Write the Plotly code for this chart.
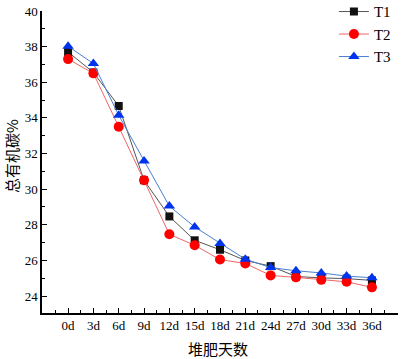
import plotly.graph_objects as go

days = ["0d", "3d", "6d", "9d", "12d", "15d", "18d", "21d", "24d", "27d", "30d", "33d", "36d"]
t1 = [37.7, 36.55, 34.67, 30.5, 28.47, 27.13, 26.6, 26.0, 25.68, 25.1, 25.02, 24.98, 24.88]
t2 = [37.3, 36.5, 33.5, 30.5, 27.47, 26.85, 26.05, 25.83, 25.16, 25.05, 24.91, 24.8, 24.49]
t3 = [38.02, 37.05, 34.15, 31.58, 29.05, 27.88, 26.95, 26.07, 25.6, 25.42, 25.3, 25.12, 25.03]
y_ticks = [24, 26, 28, 30, 32, 34, 36, 38, 40]

xi = list(range(len(days)))
serif = "Liberation Serif, Times New Roman, serif"
cjk = "Noto Sans CJK SC"

fig = go.Figure()
fig.add_trace(go.Scatter(x=xi, y=t1, name="T1", mode="lines+markers",
                         line=dict(color="#555555", width=1),
                         marker=dict(symbol="square", size=8, color="#111111")))
fig.add_trace(go.Scatter(x=xi, y=t2, name="T2", mode="lines+markers",
                         line=dict(color="#ee6666", width=1),
                         marker=dict(symbol="circle", size=10, color="#ff0000")))
fig.add_trace(go.Scatter(x=xi, y=t3, name="T3", mode="lines+markers",
                         line=dict(color="#4a7fd0", width=1),
                         marker=dict(symbol="triangle-up", size=10, color="#0033ee")))

fig.update_layout(
    width=401, height=359,
    margin=dict(l=42, r=3, t=11, b=46, autoexpand=False),
    paper_bgcolor="white", plot_bgcolor="white",
    font=dict(family=serif, size=13, color="black"),
    showlegend=True,
    legend=dict(x=0.82, y=1.052, xanchor="left", yanchor="top",
                font=dict(family=serif, size=15), bgcolor="rgba(0,0,0,0)",
                tracegroupgap=0, itemwidth=30),
    xaxis=dict(range=[-1.03, 13.03], tickvals=xi, ticktext=days, automargin=False,
               showline=True, linecolor="black", linewidth=1.5,
               ticks="inside", ticklen=5, tickwidth=1.2, tickcolor="black",
               showgrid=False, zeroline=False,
               minor=dict(tick0=-0.5, dtick=1, ticks="inside", ticklen=3,
                          tickwidth=1.2, tickcolor="black", showgrid=False)),
    yaxis=dict(range=[23.05, 40], tickvals=y_ticks, automargin=False,
               showline=True, linecolor="black", linewidth=1.5,
               ticks="inside", ticklen=5, tickwidth=1.2, tickcolor="black",
               showgrid=False, zeroline=False,
               minor=dict(tick0=23, dtick=1, ticks="inside", ticklen=3,
                          tickwidth=1.2, tickcolor="black", showgrid=False)),
)

fig.add_annotation(text="总有机碳%", xref="paper", yref="paper", x=0, y=0.52,
                   xanchor="center", yanchor="middle", xshift=-30, textangle=-90,
                   showarrow=False, font=dict(family=cjk, size=15, color="black"))
fig.add_annotation(text="堆肥天数", xref="paper", yref="paper", x=0.494, y=0,
                   xanchor="center", yanchor="middle", yshift=-35,
                   showarrow=False, font=dict(family=cjk, size=15, color="black"))

fig.write_html("out.html", config={"displayModeBar": False},
               post_script="document.body.style.margin='0';")
